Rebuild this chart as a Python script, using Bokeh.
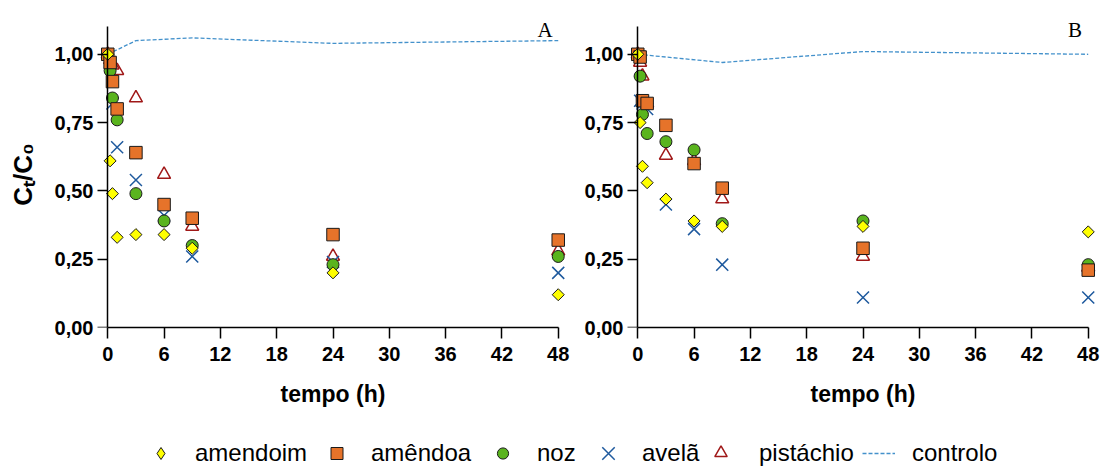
from math import pi
from bokeh.plotting import figure
from bokeh.models import FixedTicker, Label, Legend, LegendItem, Range1d, LinearAxis
from bokeh.layouts import column, row
from bokeh.embed import file_html
from bokeh.resources import INLINE

# ---------------- data ----------------
tempo = [0, 0.25, 0.5, 1, 3, 6, 9, 24, 48]

a_amendoim = [1.00, 0.61, 0.49, 0.33, 0.34, 0.34, 0.29, 0.20, 0.12]
a_amendoa = [1.00, 0.97, 0.90, 0.80, 0.64, 0.45, 0.40, 0.34, 0.32]
a_noz = [1.00, 0.94, 0.84, 0.76, 0.49, 0.39, 0.30, 0.23, 0.26]
a_avela = [1.00, 0.97, 0.82, 0.66, 0.54, 0.41, 0.26, 0.24, 0.20]
a_pistachio = [1.00, 0.98, 0.96, 0.94, 0.84, 0.56, 0.37, 0.26, 0.28]
a_ctrl_t = [0, 3, 9, 24, 48]
a_ctrl = [1.00, 1.05, 1.06, 1.04, 1.05]

b_amendoim = [1.00, 0.75, 0.59, 0.53, 0.47, 0.39, 0.37, 0.37, 0.35]
b_amendoa = [1.00, 0.99, 0.83, 0.82, 0.74, 0.60, 0.51, 0.29, 0.21]
b_noz = [1.00, 0.92, 0.78, 0.71, 0.68, 0.65, 0.38, 0.39, 0.23]
b_avela = [1.00, 0.83, 0.82, 0.80, 0.45, 0.36, 0.23, 0.11, 0.11]
b_pistachio = [1.00, 0.97, 0.92, 0.82, 0.63, 0.61, 0.47, 0.26, 0.22]
b_ctrl_t = [0, 9, 24, 48]
b_ctrl = [1.00, 0.97, 1.01, 1.00]

x_ticks = [0, 6, 12, 18, 24, 30, 36, 42, 48]
y_ticks = [0, 0.25, 0.5, 0.75, 1.0]
y_tick_labels = ["0,00", "0,25", "0,50", "0,75", "1,00"]
series_names = ["amendoim", "amêndoa", "noz", "avelã", "pistáchio", "controlo"]
panel_letters = ["A", "B"]
y_title = "Cₜ/C₀"

# ---------------- style ----------------
YELLOW = "#FFFF00"
ORANGE = "#E6732A"
GREEN = "#5AB41E"
BLUE = "#1F5A9E"
RED = "#A01818"
CTRL = "#4391CB"
EDGE = "#1a1a1a"
FONT = "Liberation Sans"
PANEL_H = 413


def make_panel(left_border, width, right_border, title=None):
    p = figure(width=width, height=PANEL_H, output_backend="svg", toolbar_location=None,
               x_range=Range1d(-1.2, 49.2), y_range=Range1d(0, 1.12),
               min_border_left=left_border, min_border_right=right_border,
               min_border_top=21, min_border_bottom=PANEL_H - 21 - 306)
    p.grid.visible = False
    p.outline_line_color = None
    p.background_fill_color = "white"
    p.border_fill_color = "white"

    xa = p.xaxis[0]
    xa.ticker = FixedTicker(ticks=x_ticks)
    xa.bounds = (0, 48)
    xa.axis_line_width = 1.5
    xa.major_tick_line_width = 1.5
    xa.major_tick_out = 11
    xa.major_tick_in = 0
    xa.minor_tick_out = 0
    xa.minor_tick_in = 0
    xa.major_label_standoff = 8
    xa.major_label_text_font = FONT
    xa.major_label_text_font_style = "bold"
    xa.major_label_text_font_size = "20px"
    xa.major_label_text_color = "black"
    xa.axis_label = "tempo (h)"
    xa.axis_label_text_font = FONT
    xa.axis_label_text_font_style = "bold"
    xa.axis_label_text_font_size = "23px"
    xa.axis_label_standoff = 17
    xa.axis_label_text_color = "black"

    # axis line + ticks drawn through t = 0
    ya = p.yaxis[0]
    ya.ticker = FixedTicker(ticks=y_ticks)
    ya.major_label_overrides = {t: "" for t in y_ticks}
    ya.bounds = (0, 1.1)
    ya.fixed_location = 0
    ya.axis_line_width = 1.5
    ya.major_tick_line_width = 1.5
    ya.major_tick_out = 0
    ya.major_tick_in = -10
    ya.minor_tick_out = 0
    ya.minor_tick_in = 0
    ya.major_label_standoff = 0

    # tick labels (and title) at the frame edge
    yl = LinearAxis(ticker=FixedTicker(ticks=y_ticks),
                    major_label_overrides=dict(zip(y_ticks, y_tick_labels)),
                    axis_line_color=None, major_tick_out=0, major_tick_in=0,
                    minor_tick_out=0, minor_tick_in=0, major_label_standoff=3,
                    major_label_text_font=FONT, major_label_text_font_style="bold",
                    major_label_text_font_size="20px", major_label_text_color="black")
    if title:
        yl.axis_label = title
        yl.axis_label_text_font = FONT
        yl.axis_label_text_font_style = "bold"
        yl.axis_label_text_font_size = "26px"
        yl.axis_label_text_color = "black"
        yl.axis_label_standoff = 14
    p.add_layout(yl, "left")
    return p


def draw(p, amendoim, amendoa, noz, avela, pistachio, ct, ctrl):
    p.line(ct, ctrl, line_color=CTRL, line_width=1.3, line_dash="4 2")
    p.scatter(tempo, pistachio, marker="triangle", size=13, fill_color=None,
              line_color=RED, line_width=1.5)
    p.scatter(tempo, avela, marker="x", size=17, line_color=BLUE, line_width=1.5)
    p.scatter(tempo, noz, marker="circle", size=12, fill_color=GREEN,
              line_color=EDGE, line_width=1)
    p.scatter(tempo, amendoa, marker="square", size=12.5, fill_color=ORANGE,
              line_color=EDGE, line_width=1)
    p.scatter(tempo, amendoim, marker="square", angle=pi / 4, size=8.5,
              fill_color=YELLOW, line_color=EDGE, line_width=1)


pA = make_panel(96, 570, 1, title=y_title)
draw(pA, a_amendoim, a_amendoa, a_noz, a_avela, a_pistachio, a_ctrl_t, a_ctrl)
pA.add_layout(Label(x=46.6, y=1.088, text=panel_letters[0], text_align="center",
                    text_baseline="middle", text_font="Liberation Serif",
                    text_font_size="21px", text_color="black"))

pB = make_panel(56, 530, 1)
draw(pB, b_amendoim, b_amendoa, b_noz, b_avela, b_pistachio, b_ctrl_t, b_ctrl)
pB.add_layout(Label(x=46.6, y=1.088, text=panel_letters[1], text_align="center",
                    text_baseline="middle", text_font="Liberation Serif",
                    text_font_size="21px", text_color="black"))

# ---------------- legend strip ----------------
# legend renderers carry the panel-A data but sit outside this strip's view
LEG_H = 468 - PANEL_H
leg = figure(width=1100, height=LEG_H, output_backend="svg", toolbar_location=None,
             x_range=Range1d(1000, 1001), y_range=Range1d(1000, 1001),
             min_border_left=0, min_border_right=0, min_border_top=0, min_border_bottom=0)
leg.axis.visible = False
leg.grid.visible = False
leg.outline_line_color = None

r_amendoim = leg.scatter(tempo, a_amendoim, marker="diamond", size=12,
                         fill_color=YELLOW, line_color=EDGE, line_width=1)
r_amendoa = leg.scatter(tempo, a_amendoa, marker="square", size=12, fill_color=ORANGE,
                        line_color=EDGE, line_width=1)
r_noz = leg.scatter(tempo, a_noz, marker="circle", size=11, fill_color=GREEN,
                    line_color=EDGE, line_width=1)
r_avela = leg.scatter(tempo, a_avela, marker="x", size=17, line_color=BLUE, line_width=1.5)
r_pist = leg.scatter(tempo, a_pistachio, marker="triangle", size=13, fill_color=None,
                     line_color=RED, line_width=1.5)
r_ctrl = leg.line(a_ctrl_t, a_ctrl, line_color=CTRL, line_width=1.3, line_dash="4 2")

renderers = [r_amendoim, r_amendoa, r_noz, r_avela, r_pist, r_ctrl]
glyph_centers = [160.7, 336, 503, 608, 720, 878.5]
glyph_widths = [33, 33, 33, 44, 33, 33]
glyph_heights = [30, 30, 28, 44, 31, 30]
label_starts = [195, 370, 537, 642, 758, 912]
item_center = 15  # px above the strip's bottom edge
for name, rr, gc, gw, gh, ls in zip(series_names, renderers, glyph_centers,
                                   glyph_widths, glyph_heights, label_starts):
    sx = gc - gw / 2
    box_h = max(gh, 30)
    lg = Legend(items=[LegendItem(label=name, renderers=[rr])],
                location=(round(sx), round(item_center - box_h / 2)),
                orientation="horizontal", padding=0, margin=0, spacing=0,
                glyph_width=gw, glyph_height=gh, label_height=30,
                label_standoff=round(ls - sx - gw),
                border_line_color=None, background_fill_alpha=0,
                label_text_font=FONT, label_text_font_size="24px",
                label_text_color="black")
    leg.add_layout(lg, "center")

layout = column(row(pA, pB), leg)
open("out.html", "w").write(file_html(layout, INLINE))
